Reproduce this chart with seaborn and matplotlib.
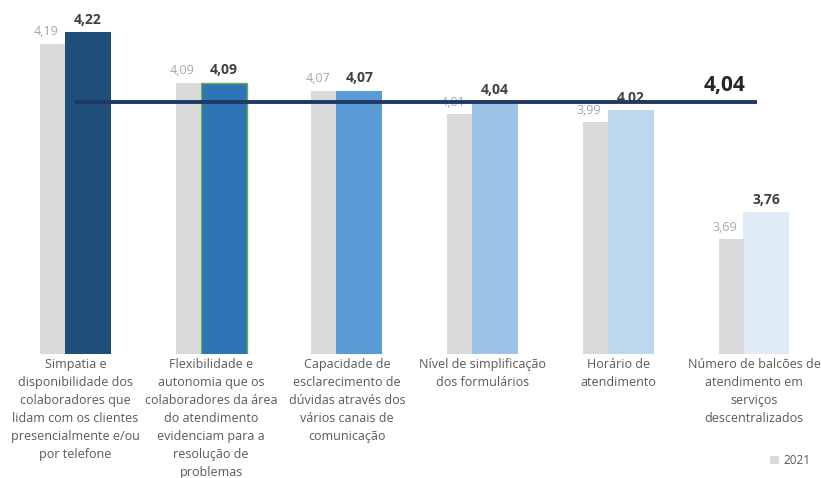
import numpy as np
import pandas as pd
import matplotlib
matplotlib.use("Agg")
import matplotlib.pyplot as plt
from matplotlib.patches import Patch
import matplotlib.transforms as mtransforms
import seaborn as sns

categories = [
    "Simpatia e\ndisponibilidade dos\ncolaboradores que\nlidam com os clientes\npresencialmente e/ou\npor telefone",
    "Flexibilidade e\nautonomia que os\ncolaboradores da área\ndo atendimento\nevidenciam para a\nresolução de\nproblemas",
    "Capacidade de\nesclarecimento de\ndúvidas através dos\nvários canais de\ncomunicação",
    "Nível de simplificação\ndos formulários",
    "Horário de\natendimento",
    "Número de balcões de\natendimento em\nserviços\ndescentralizados",
]
values_2021 = [4.19, 4.09, 4.07, 4.01, 3.99, 3.69]
values_2022 = [4.22, 4.09, 4.07, 4.04, 4.02, 3.76]
mean_2022 = 4.04
mean_label = "4,04"
legend_label = "2021"

colors_2022 = ["#1f4e79", "#2e75b6", "#5b9bd5", "#9dc3e6", "#bdd7ee", "#deebf7"]
gray = "#d9d9d9"

sns.set_theme(style="white")
plt.rcParams["font.family"] = ["Open Sans", "DejaVu Sans"]

fig = plt.figure(figsize=(8.21, 4.78), dpi=100)
ax = fig.add_axes([0, 124 / 478, 1, 354 / 478])

idx = np.arange(len(categories))
off_gray, w_gray = -0.169, 0.184
off_new, w_new = 0.092, 0.339

df_new = pd.DataFrame({"pos": idx + off_new, "val": values_2022, "cat": [f"c{i}" for i in idx]})
df_old = pd.DataFrame({"pos": idx + off_gray, "val": values_2021})

sns.barplot(data=df_new, x="pos", y="val", hue="cat", palette=colors_2022,
            native_scale=True, width=w_new, dodge=False, legend=False,
            saturation=1, ax=ax, zorder=2, linewidth=0)
new_patches = list(ax.patches)
sns.barplot(data=df_old, x="pos", y="val", native_scale=True, width=w_gray,
            color=gray, saturation=1, ax=ax, zorder=2, linewidth=0)

# green outline on second bar
for p in new_patches:
    if abs(p.get_x() + p.get_width() / 2 - (1 + off_new)) < 0.05:
        p.set_edgecolor("#70ad47")
        p.set_linewidth(1.0)

ax.set_xlim(-0.556, 5.494)
ax.set_ylim(3.397, 4.302)
ax.set_xticks([])
ax.set_yticks([])
ax.set_xlabel("")
ax.set_ylabel("")
for s in ax.spines.values():
    s.set_visible(False)

def fmt(v):
    return f"{v:.2f}".replace(".", ",")

for i in idx:
    ax.text(i + off_new, values_2022[i] + 0.014, fmt(values_2022[i]), ha="center", va="bottom",
            fontsize=10, fontweight="bold", color="#404040", zorder=3)
    ax.text(i + off_gray - 0.045, values_2021[i] + 0.014, fmt(values_2021[i]), ha="center", va="bottom",
            fontsize=9, color="#a6a6a6", zorder=3)

# mean line
ax.plot([0.0, 5.02], [mean_2022, mean_2022], color="#1f3864", lw=2.8, zorder=5, solid_capstyle="butt")
ax.text(4.786, 4.083, mean_label, ha="center", va="center", fontsize=15, fontweight="bold", color="#262626")

# category labels
trans = mtransforms.blended_transform_factory(ax.transData, ax.transAxes)
for i, lab in enumerate(categories):
    ax.text(i, -0.011, lab, transform=trans, ha="center", va="top", fontsize=9,
            color="#595959", linespacing=1.5, clip_on=False)

fig.legend(handles=[Patch(facecolor=gray, edgecolor="none", label=legend_label)],
           loc="lower right", bbox_to_anchor=(1.0, 0.0), frameon=False, fontsize=8.5,
           handlelength=0.7, handleheight=0.7, handletextpad=0.4, labelcolor="#595959")

fig.savefig("out.png", dpi=100)
